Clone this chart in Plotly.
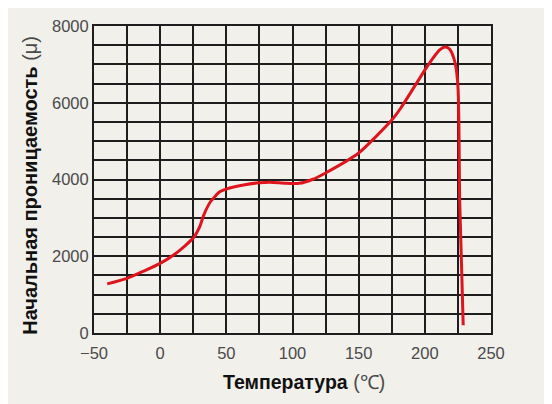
import plotly.graph_objects as go

# Кривая начальной проницаемости в зависимости от температуры
temperature = [-40, -25, -12, 0, 12, 25, 30, 33, 38, 45, 50, 63, 75, 83, 95, 105,
               115, 125, 150, 175, 182, 200, 207, 211, 215, 218, 220, 222, 223.5,
               224.5, 225.2, 225.8, 226.3, 229]
permeability = [1280, 1425, 1620, 1815, 2080, 2475, 2780, 3080, 3420, 3680, 3750,
                3855, 3915, 3930, 3900, 3900, 4000, 4170, 4690, 5550, 5870, 6850,
                7200, 7370, 7450, 7420, 7330, 7150, 6930, 6650, 6300, 5300, 3500, 200]

x_ticks = [-50, 0, 50, 100, 150, 200, 250]
y_ticks = [0, 2000, 4000, 6000, 8000]

fig = go.Figure()

fig.add_trace(
    go.Scatter(
        x=temperature,
        y=permeability,
        mode="lines",
        line=dict(color="#E0141C", width=3, shape="spline", smoothing=0.6),
        showlegend=False,
    )
)

axis_common = dict(
    showgrid=True,
    gridcolor="#1E1E1E",
    gridwidth=2,
    zeroline=False,
    showline=True,
    linecolor="#1E1E1E",
    linewidth=2,
    mirror=True,
    ticks="",
    automargin=False,
    tickfont=dict(family="Liberation Sans, Arial", size=16.5, color="#4A4A4A"),
)

fig.update_xaxes(
    range=[-50, 250],
    tickvals=x_ticks,
    ticklabelstandoff=4,
    minor=dict(dtick=25, showgrid=True, gridcolor="#1E1E1E", gridwidth=2),
    **axis_common,
)

fig.update_yaxes(
    range=[0, 8000],
    tickvals=y_ticks,
    ticklabelstandoff=0,
    minor=dict(dtick=500, showgrid=True, gridcolor="#1E1E1E", gridwidth=2),
    **axis_common,
)

title_font = dict(family="Liberation Sans, Arial", size=19.5, color="#111111")

fig.add_annotation(
    text="<b>Температура</b> <span style='color:#4A4A4A'>(℃)</span>",
    xref="paper", yref="paper", x=0.53, y=-0.16,
    xanchor="center", yanchor="middle",
    showarrow=False, font=title_font,
)
fig.add_annotation(
    text="<b>Начальная проницаемость</b> <span style='color:#4A4A4A'>(μ)</span>",
    xref="paper", yref="paper", x=-0.161, y=0.48,
    xanchor="center", yanchor="middle", textangle=-90,
    showarrow=False, font=dict(family="Liberation Sans, Arial", size=20, color="#111111"),
)

fig.update_layout(
    width=552,
    height=404,
    paper_bgcolor="#F1F0EB",
    plot_bgcolor="#F1F0EB",
    margin=dict(l=86, r=69, t=18, b=79),
)

fig.write_html("out.html")
